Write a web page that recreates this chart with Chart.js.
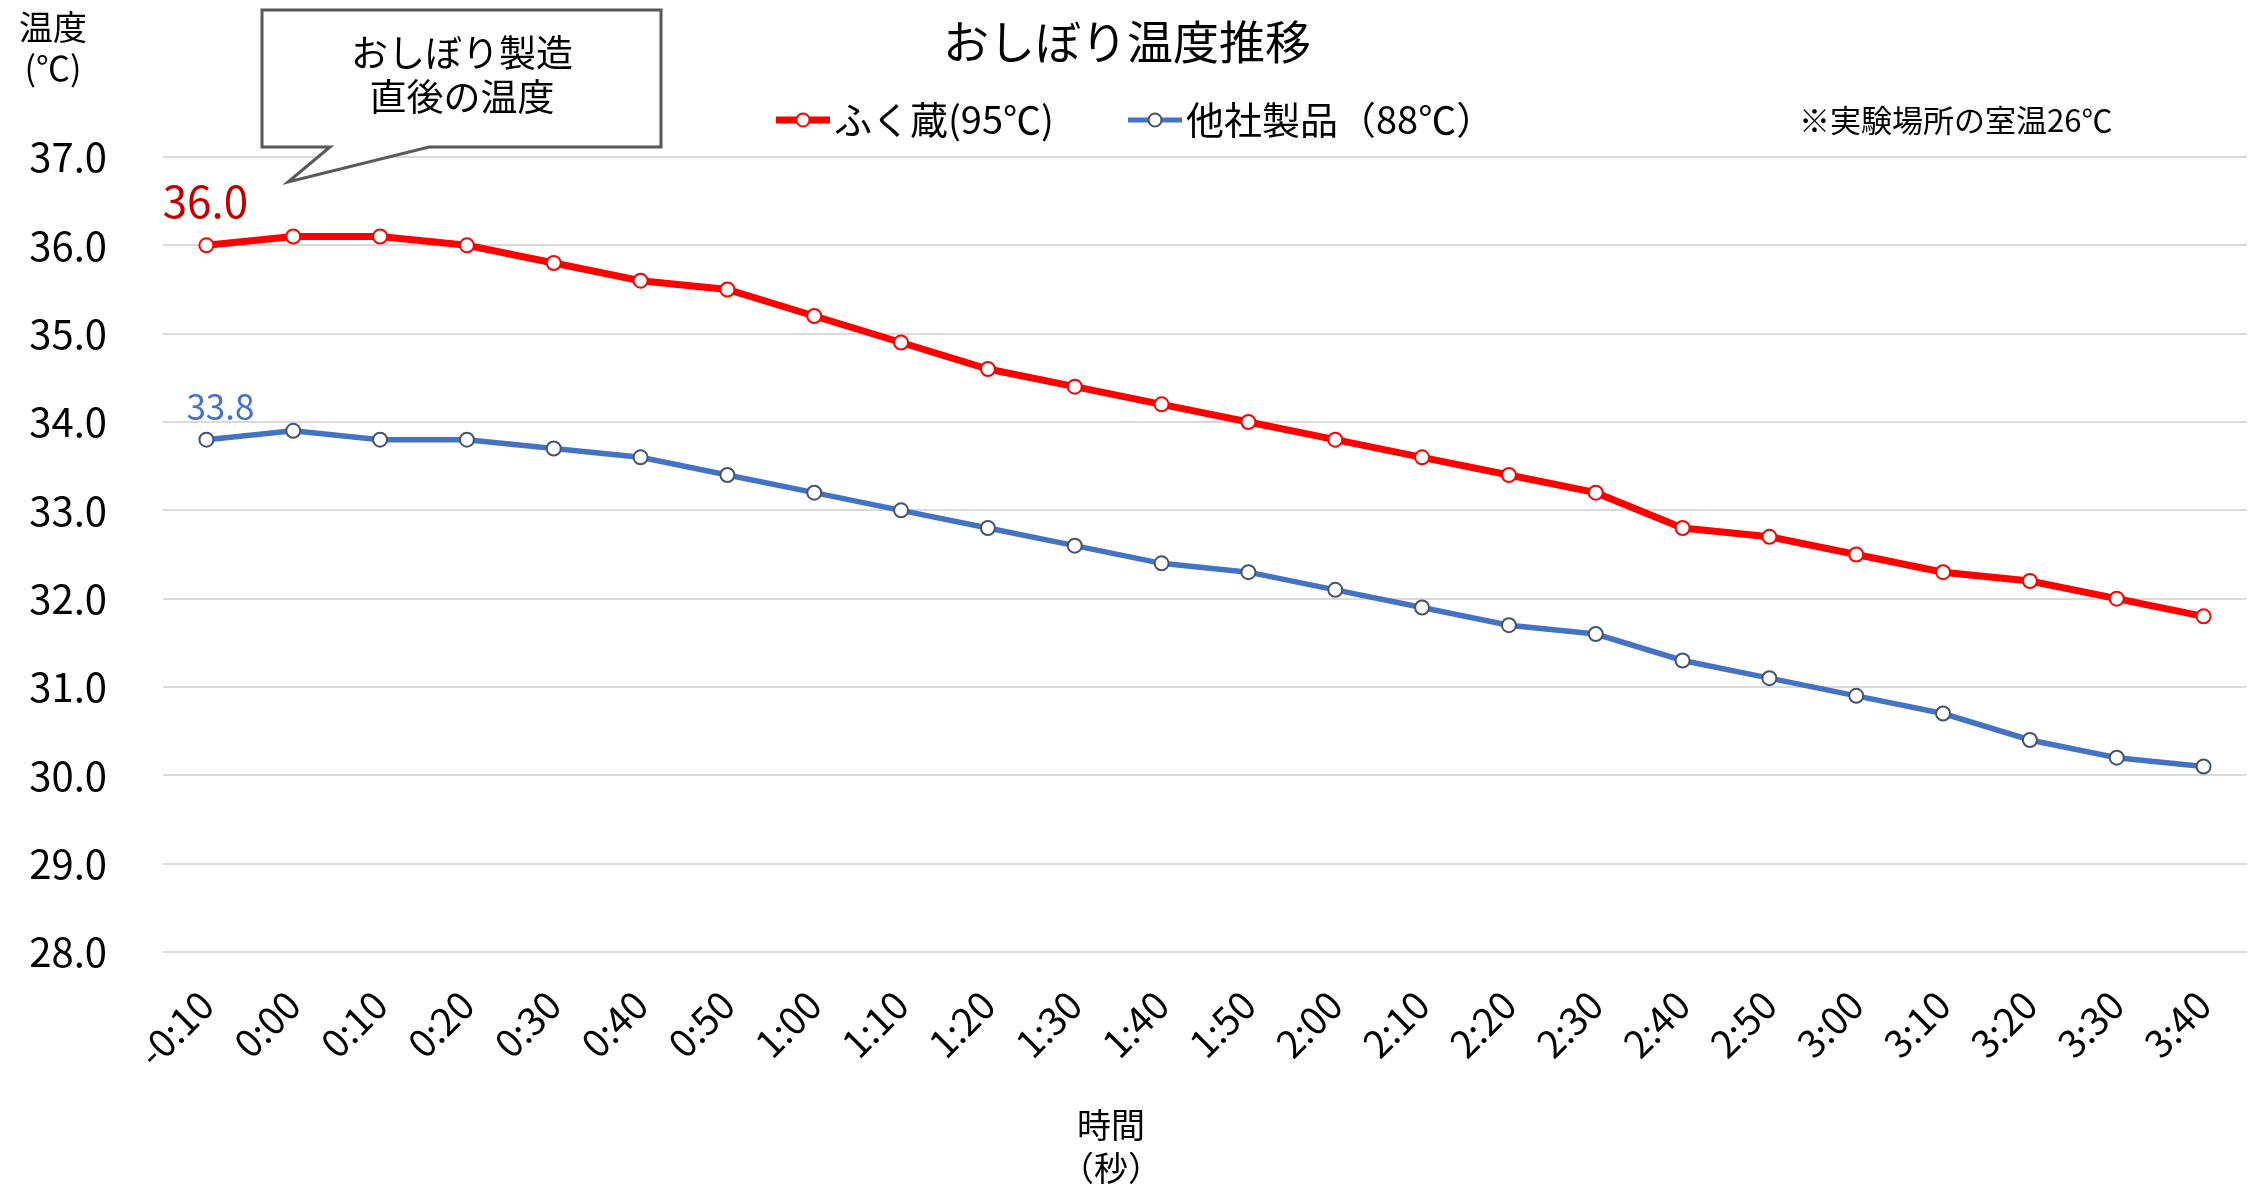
<!DOCTYPE html>
<html lang="ja">
<head>
<meta charset="utf-8">
<title>おしぼり温度推移</title>
<script src="https://cdn.jsdelivr.net/npm/chart.js@4"></script>
<style>
    html, body { margin: 0; padding: 0; background: #fff; }
    #wrap { width: 2262px; height: 1190px; }
</style>
</head>
<body>
<div id="wrap"><canvas id="chart-js" width="2262" height="1190"></canvas></div>
<script>
// 時間ラベル
const labels = ['-0:10', '0:00', '0:10', '0:20', '0:30', '0:40', '0:50', '1:00', '1:10', '1:20', '1:30', '1:40',
    '1:50', '2:00', '2:10', '2:20', '2:30', '2:40', '2:50', '3:00', '3:10', '3:20', '3:30', '3:40'];

// 温度 (℃)
const fukuzo = [36.0, 36.1, 36.1, 36.0, 35.8, 35.6, 35.5, 35.2, 34.9, 34.6, 34.4, 34.2,
    34.0, 33.8, 33.6, 33.4, 33.2, 32.8, 32.7, 32.5, 32.3, 32.2, 32.0, 31.8];
const tasha = [33.8, 33.9, 33.8, 33.8, 33.7, 33.6, 33.4, 33.2, 33.0, 32.8, 32.6, 32.4,
    32.3, 32.1, 31.9, 31.7, 31.6, 31.3, 31.1, 30.9, 30.7, 30.4, 30.2, 30.1];

const seriesNames = ['ふく蔵(95℃)', '他社製品（88℃）'];
const yTicks = { min: 28, max: 37, step: 1 };

const FONT = '"Noto Sans CJK JP", "Noto Sans", sans-serif';

const extras = {
    id: 'extras',
    afterDraw(chart) {
        const ctx = chart.ctx;
        ctx.save();
        ctx.fillStyle = '#000';
        ctx.textAlign = 'center';
        ctx.textBaseline = 'middle';

        // タイトル
        ctx.font = `46px ${FONT}`;
        ctx.fillText('おしぼり温度推移', 1127, 42);

        // 軸タイトル
        ctx.font = `34px ${FONT}`;
        ctx.fillText('温度', 53, 27);
        ctx.fillText('(℃)', 53, 68);
        ctx.fillText('時間', 1111, 1125);
        ctx.fillText('（秒）', 1111, 1168);

        // 凡例
        const legend = [
            { x: 776, line: '#ff0000', border: '#ff0000', width: 7 },
            { x: 1128, line: '#4472c4', border: '#44546a', width: 5 },
        ];
        legend.forEach((l, i) => {
            ctx.strokeStyle = l.line;
            ctx.lineWidth = l.width;
            ctx.beginPath();
            ctx.moveTo(l.x, 120);
            ctx.lineTo(l.x + 54, 120);
            ctx.stroke();
            ctx.beginPath();
            ctx.arc(l.x + 27, 120, 6.5, 0, Math.PI * 2);
            ctx.fillStyle = '#fff';
            ctx.fill();
            ctx.lineWidth = 2;
            ctx.strokeStyle = l.border;
            ctx.stroke();
            ctx.fillStyle = '#000';
            ctx.textAlign = 'left';
            ctx.font = `38px ${FONT}`;
            ctx.fillText(chart.data.datasets[i].label, l.x + 58, 120);
        });

        ctx.font = `31px ${FONT}`;
        ctx.fillText('※実験場所の室温26℃', 1799, 120);

        // 吹き出し
        ctx.beginPath();
        ctx.moveTo(262, 10);
        ctx.lineTo(661, 10);
        ctx.lineTo(661, 147);
        ctx.lineTo(429, 147);
        ctx.lineTo(288, 182);
        ctx.lineTo(330, 147);
        ctx.lineTo(262, 147);
        ctx.closePath();
        ctx.fillStyle = '#fff';
        ctx.fill();
        ctx.strokeStyle = '#595959';
        ctx.lineWidth = 3;
        ctx.stroke();
        ctx.fillStyle = '#000';
        ctx.textAlign = 'center';
        ctx.font = `37px ${FONT}`;
        ctx.fillText('おしぼり製造', 462, 53);
        ctx.fillText('直後の温度', 462, 97);

        // 最初の値ラベル
        const p0 = chart.getDatasetMeta(0).data[0];
        const p1 = chart.getDatasetMeta(1).data[0];
        ctx.font = `44px ${FONT}`;
        ctx.fillStyle = '#c00000';
        ctx.fillText(fukuzo[0].toFixed(1), p0.x - 1, p0.y - 44);
        ctx.font = `35px ${FONT}`;
        ctx.fillStyle = '#4472c4';
        ctx.fillText(tasha[0].toFixed(1), p1.x + 14, p1.y - 33);
        ctx.restore();
    }
};

const data = {
    labels: labels,
    datasets: [
        {
            label: seriesNames[0],
            data: fukuzo,
            borderColor: '#ff0000',
            borderWidth: 7,
            pointRadius: 7,
            pointBorderWidth: 2,
            pointBackgroundColor: '#ffffff',
            pointBorderColor: '#ff0000',
            tension: 0,
        },
        {
            label: seriesNames[1],
            data: tasha,
            borderColor: '#4472c4',
            borderWidth: 5.5,
            pointRadius: 7,
            pointBorderWidth: 2,
            pointBackgroundColor: '#ffffff',
            pointBorderColor: '#44546a',
            tension: 0,
        },
    ]
};

const config = {
    type: 'line',
    data: data,
    options: {
        responsive: false,
        devicePixelRatio: 1,
        animation: false,
        layout: { padding: { top: 157, right: 15, left: 0, bottom: 0 } },
        plugins: {
            legend: { display: false },
            title: { display: false },
            tooltip: { enabled: false },
        },
        scales: {
            x: {
                offset: true,
                grid: { display: false },
                border: { display: false },
                ticks: {
                    color: '#000',
                    font: { family: FONT, size: 38 },
                    minRotation: 45,
                    maxRotation: 45,
                    padding: 22,
                    autoSkip: false,
                },
                afterFit: (scale) => { scale.height = 238; },
            },
            y: {
                min: yTicks.min,
                max: yTicks.max,
                grid: { color: '#d9d9d9', lineWidth: 2, drawTicks: false },
                border: { display: false },
                ticks: {
                    stepSize: yTicks.step,
                    color: '#000',
                    font: { family: FONT, size: 40 },
                    padding: 56,
                    callback: (v) => Number(v).toFixed(1),
                },
                afterFit: (scale) => { scale.width = 163; },
            }
        }
    },
    plugins: [extras]
};

new Chart(document.getElementById('chart-js'), config);
</script>
</body>
</html>
